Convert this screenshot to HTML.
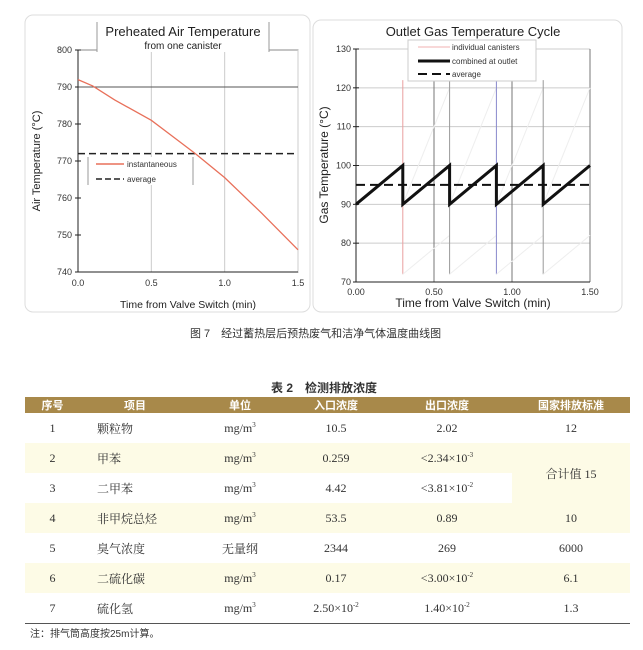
<!DOCTYPE html>
<html><head><meta charset="utf-8">
<style>
body{margin:0;width:643px;height:650px;background:#fff;overflow:hidden;position:relative;font-family:"Liberation Sans","Noto Sans CJK SC",sans-serif}
svg{position:absolute;left:0;top:0}
.cap{position:absolute;font-size:11px;color:#333;white-space:nowrap}
table{position:absolute;left:25px;top:397px;width:605px;border-collapse:collapse;font-family:"Liberation Serif","Noto Serif CJK SC",serif;font-size:12px;color:#333}
th{background:#a8894a;color:#fff;height:15px;padding:0;font-family:"Liberation Sans","Noto Sans CJK SC",sans-serif;font-size:11px;font-weight:bold}
td{height:30px;padding:0;text-align:center}
tr.s td{background:#fdfbe6}
td.it{text-align:left;padding-left:17px}
table tr:last-child td{border-bottom:1px solid #555}
sup{font-size:7px}
</style></head><body>
<svg width="643" height="330" id="chart"></svg>
<div class="cap" style="left:190px;top:325px">图 7　经过蓄热层后预热废气和洁净气体温度曲线图</div>
<div class="cap" style="left:271px;top:379px;font-weight:bold;font-size:12px">表 2　检测排放浓度</div>
<table>
<colgroup><col style="width:55px"><col style="width:110px"><col style="width:100px"><col style="width:92px"><col style="width:130px"><col style="width:118px"></colgroup>
<tr><th>序号</th><th>项目</th><th>单位</th><th>入口浓度</th><th>出口浓度</th><th>国家排放标准</th></tr>
<tr><td>1</td><td class="it">颗粒物</td><td>mg/m<sup>3</sup></td><td>10.5</td><td>2.02</td><td>12</td></tr>
<tr class="s"><td>2</td><td class="it">甲苯</td><td>mg/m<sup>3</sup></td><td>0.259</td><td>&lt;2.34×10<sup>-3</sup></td><td rowspan="2">合计值 15</td></tr>
<tr><td>3</td><td class="it">二甲苯</td><td>mg/m<sup>3</sup></td><td>4.42</td><td>&lt;3.81×10<sup>-2</sup></td></tr>
<tr class="s"><td>4</td><td class="it">非甲烷总烃</td><td>mg/m<sup>3</sup></td><td>53.5</td><td>0.89</td><td>10</td></tr>
<tr><td>5</td><td class="it">臭气浓度</td><td>无量纲</td><td>2344</td><td>269</td><td>6000</td></tr>
<tr class="s"><td>6</td><td class="it">二硫化碳</td><td>mg/m<sup>3</sup></td><td>0.17</td><td>&lt;3.00×10<sup>-2</sup></td><td>6.1</td></tr>
<tr><td>7</td><td class="it">硫化氢</td><td>mg/m<sup>3</sup></td><td>2.50×10<sup>-2</sup></td><td>1.40×10<sup>-2</sup></td><td>1.3</td></tr>
</table>
<div class="cap" style="left:30px;top:625px;font-size:10px">注：排气筒高度按25m计算。</div>
<script>
const airX=[0,0.1,0.25,0.5,0.7,0.8,1.0,1.25,1.5];
const airY=[792,790.3,786.5,781,775,772,765.5,756,746];
const airAvg=772;
const airYTicks=[740,750,760,770,780,790,800];
const airXTicks=[0,0.5,1.0,1.5];
const gasX=[0,0.3,0.3,0.6,0.6,0.9,0.9,1.2,1.2,1.5];
const gasY=[90,100,90,100,90,100,90,100,90,100];
const gasAvg=95;
const gasYTicks=[70,80,90,100,110,120,130];
const gasXTicks=[0,0.5,1.0,1.5];
const canisterSwitch=[0.3,0.6,0.9,1.2];

const svg=document.getElementById('chart');
const NS='http://www.w3.org/2000/svg';
function mk(t,a,p){const e=document.createElementNS(NS,t);for(const k in a)e.setAttribute(k,a[k]);(p||svg).appendChild(e);return e;}
function txt(s,a,p){const e=mk('text',a,p);e.textContent=s;return e;}

let p1=mk('rect',{x:25,y:15,width:285,height:297,rx:8,fill:'none',stroke:'#ddd'});

let p2=mk('rect',{x:313,y:20,width:309,height:292,rx:8,fill:'none',stroke:'#ddd'});


const L={x0:78,x1:298,y0:272,y1:50};
const lx=v=>L.x0+(v-0)/1.5*(L.x1-L.x0);
const ly=v=>L.y0-(v-740)/60*(L.y0-L.y1);
mk('rect',{x:L.x0,y:L.y1,width:L.x1-L.x0,height:L.y0-L.y1,fill:'none',stroke:'#888'});
airXTicks.forEach(v=>{
  const g=mk('line',{x1:lx(v),x2:lx(v),y1:L.y1,y2:L.y0,stroke:'#ccc'});
  
  const t=txt(v.toFixed(1),{x:lx(v),y:286,'font-size':9,'text-anchor':'middle',fill:'#333'});
  
});
airYTicks.forEach(v=>{
  mk('line',{x1:L.x0-3,x2:L.x0+3,y1:ly(v),y2:ly(v),stroke:'#222'});
  if(v==790){const g=mk('line',{x1:L.x0,x2:L.x1,y1:ly(v),y2:ly(v),stroke:'#555'});}
  const t=txt(v,{x:L.x0-6,y:ly(v)+3,'font-size':9,'text-anchor':'end',fill:'#333'});
  
});
mk('line',{x1:L.x0,x2:L.x0,y1:L.y1,y2:L.y0,stroke:'#222'});
mk('line',{x1:L.x0,x2:L.x1,y1:L.y0,y2:L.y0,stroke:'#222'});
let la=mk('line',{x1:L.x0,x2:L.x1,y1:ly(airAvg),y2:ly(airAvg),stroke:'#222','stroke-width':1.5,'stroke-dasharray':'7,4'});

let lc=mk('polyline',{points:airX.map((v,i)=>lx(v)+','+ly(airY[i])).join(' '),fill:'none',stroke:'#e8705a','stroke-width':1.3});

mk('rect',{x:97,y:22,width:172,height:30,fill:'#fff'});
mk('line',{x1:97,x2:97,y1:22,y2:52,stroke:'#999'});mk('line',{x1:269,x2:269,y1:22,y2:52,stroke:'#999'});
let t1=txt('Preheated Air Temperature',{x:183,y:36,'font-size':13,'text-anchor':'middle',fill:'#222'});

txt('from one canister',{x:183,y:49,'font-size':10,'text-anchor':'middle',fill:'#222'});
let lg=mk('g',{});
mk('rect',{x:88,y:157,width:105,height:28,fill:'#fff'},lg);
mk('line',{x1:88,x2:88,y1:157,y2:185,stroke:'#999'},lg);mk('line',{x1:193,x2:193,y1:157,y2:185,stroke:'#999'},lg);
mk('line',{x1:96,x2:124,y1:164,y2:164,stroke:'#e8705a','stroke-width':1.5},lg);
txt('instantaneous',{x:127,y:167,'font-size':8,fill:'#333'},lg);
mk('line',{x1:96,x2:124,y1:179,y2:179,stroke:'#222','stroke-width':1.5,'stroke-dasharray':'6,3'},lg);
txt('average',{x:127,y:182,'font-size':8,fill:'#333'},lg);
txt('Time from Valve Switch (min)',{x:188,y:308,'font-size':10.5,'text-anchor':'middle',fill:'#222'});
txt('Air Temperature (°C)',{x:0,y:0,'font-size':11,'text-anchor':'middle',fill:'#222',transform:'translate(40,161) rotate(-90)'});

const R={x0:356,x1:590,y0:282,y1:49};
const rx=v=>R.x0+v/1.5*(R.x1-R.x0);
const ry=v=>R.y0-(v-70)/60*(R.y0-R.y1);
gasYTicks.forEach(v=>{
  const g=mk('line',{x1:R.x0,x2:R.x1,y1:ry(v),y2:ry(v),stroke:'#ccc'});
  
  mk('line',{x1:R.x0-3,x2:R.x0+3,y1:ry(v),y2:ry(v),stroke:'#222'});
  const t=txt(v,{x:R.x0-5,y:ry(v)+3,'font-size':9,'text-anchor':'end',fill:'#333'});
  
});
gasXTicks.forEach(v=>{
  const g=mk('line',{x1:rx(v),x2:rx(v),y1:R.y1,y2:R.y0,stroke:'#777'});
  
  const t=txt(v.toFixed(2),{x:rx(v),y:295,'font-size':9,'text-anchor':'middle',fill:'#333'});
  
});
canisterSwitch.forEach((v,i)=>{
  const g=mk('line',{x1:rx(v),x2:rx(v),y1:ry(122),y2:ry(72),stroke:['#e9a0a0','#999','#8888cc','#999'][i]});
  
  mk('line',{x1:rx(v),x2:rx(v+0.3),y1:ry(90),y2:ry(120),stroke:'#eee'});
  mk('line',{x1:rx(v),x2:rx(v+0.3),y1:ry(72),y2:ry(82),stroke:'#eee'});
});
mk('line',{x1:R.x0,x2:R.x0,y1:R.y1,y2:R.y0,stroke:'#222'});
mk('line',{x1:R.x0,x2:R.x1,y1:R.y0,y2:R.y0,stroke:'#222'});
let ra=mk('line',{x1:R.x0,x2:R.x1,y1:ry(gasAvg),y2:ry(gasAvg),stroke:'#111','stroke-width':2,'stroke-dasharray':'9,5'});

let rc=mk('polyline',{points:gasX.map((v,i)=>rx(v)+','+ry(gasY[i])).join(' '),fill:'none',stroke:'#111','stroke-width':3});

txt('Outlet Gas Temperature Cycle',{x:473,y:36,'font-size':13,'text-anchor':'middle',fill:'#222'});
let rg=mk('g',{});
mk('rect',{x:408,y:40,width:128,height:41,fill:'#fff',stroke:'#ccc'},rg);
mk('line',{x1:418,x2:450,y1:47,y2:47,stroke:'#f0b0b0'},rg);
txt('individual canisters',{x:452,y:50,'font-size':8,fill:'#333'},rg);
mk('line',{x1:418,x2:450,y1:61,y2:61,stroke:'#111','stroke-width':3},rg);
txt('combined at outlet',{x:452,y:64,'font-size':8,fill:'#333'},rg);
mk('line',{x1:418,x2:450,y1:74,y2:74,stroke:'#111','stroke-width':2,'stroke-dasharray':'9,5'},rg);
txt('average',{x:452,y:77,'font-size':8,fill:'#333'},rg);
txt('Time from Valve Switch (min)',{x:473,y:307,'font-size':12,'text-anchor':'middle',fill:'#222'});
txt('Gas Temperature (°C)',{x:0,y:0,'font-size':12,'text-anchor':'middle',fill:'#222',transform:'translate(328,165) rotate(-90)'});
</script>
</body></html>
